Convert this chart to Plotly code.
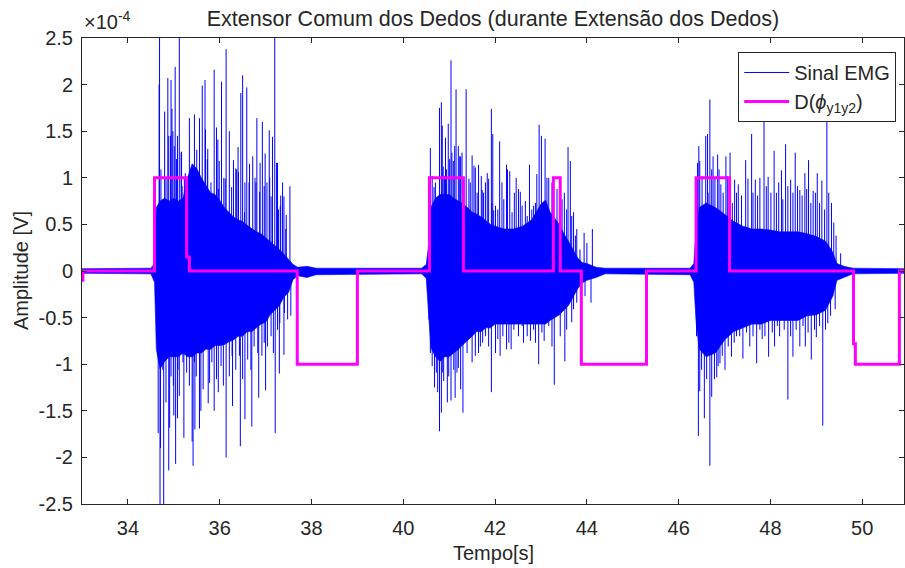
import plotly.graph_objects as go

# ---------------- data (amplitudes in units of 1e-4 V) ----------------
# Step signal D(phi_y1y2): breakpoints (value holds until next time)
d_time = [33.0, 33.02, 34.58, 35.28, 35.34, 37.69, 39.00, 40.57, 41.31, 43.27,
          43.42, 43.88, 45.30, 46.38, 47.11, 49.81, 49.85, 50.81, 50.91]
d_value = [-0.1, 0, 1, 0.15, 0, -1, 0, 1, 0, 1,
           0, -1, 0, 1, 0, -0.78, -1, 0, 0]

# EMG dense-core envelope
env_time = [33.0, 34.50, 34.58, 34.62, 34.70, 34.80, 34.90, 35.00, 35.10, 35.20,
            35.30, 35.40, 35.50, 35.60, 35.70, 35.80, 35.90, 36.00, 36.10, 36.20,
            36.30, 36.40, 36.50, 36.60, 36.70, 36.80, 36.90, 37.00, 37.10, 37.20,
            37.30, 37.40, 37.50, 37.60, 37.70, 37.90, 38.10, 40.40, 40.50, 40.55,
            40.60, 40.70, 40.80, 40.90, 41.00, 41.10, 41.20, 41.30, 41.40, 41.50,
            41.60, 41.70, 41.80, 41.90, 42.00, 42.20, 42.40, 42.60, 42.80, 43.00,
            43.10, 43.20, 43.40, 43.50, 43.60, 43.70, 43.80, 43.90, 44.00, 44.20,
            44.40, 46.25, 46.33, 46.38, 46.45, 46.60, 46.80, 47.00, 47.20, 47.40,
            47.60, 47.80, 48.00, 48.20, 48.40, 48.60, 48.80, 49.00, 49.20, 49.35,
            49.45, 49.60, 49.80, 50.91]
env_upper = [0.025, 0.03, 0.08, 0.68, 0.75, 0.78, 0.75, 0.78, 0.75, 0.78,
             1.00, 1.15, 1.10, 1.00, 0.92, 0.84, 0.82, 0.76, 0.68, 0.63,
             0.58, 0.55, 0.53, 0.49, 0.45, 0.42, 0.40, 0.36, 0.32, 0.27,
             0.23, 0.18, 0.13, 0.07, 0.04, 0.05, 0.03, 0.03, 0.07, 0.27,
             0.68, 0.78, 0.82, 0.82, 0.82, 0.78, 0.75, 0.72, 0.68, 0.63,
             0.61, 0.58, 0.54, 0.50, 0.48, 0.45, 0.45, 0.48, 0.55, 0.72,
             0.76, 0.63, 0.50, 0.40, 0.32, 0.23, 0.14, 0.09, 0.08, 0.04,
             0.03, 0.03, 0.08, 0.45, 0.68, 0.73, 0.68, 0.61, 0.53, 0.48,
             0.45, 0.45, 0.44, 0.42, 0.42, 0.42, 0.40, 0.37, 0.32, 0.21,
             0.08, 0.05, 0.03, 0.025]
env_lower = [-0.025, -0.03, -0.12, -0.84, -1.05, -0.97, -0.92, -0.92, -0.92, -0.88,
             -0.92, -0.92, -0.88, -0.88, -0.84, -0.84, -0.80, -0.80, -0.79, -0.76,
             -0.74, -0.70, -0.70, -0.65, -0.65, -0.61, -0.57, -0.55, -0.47, -0.42,
             -0.37, -0.28, -0.23, -0.09, -0.05, -0.07, -0.04, -0.03, -0.08, -0.45,
             -0.82, -0.92, -0.97, -0.92, -0.92, -0.88, -0.84, -0.79, -0.74, -0.70,
             -0.65, -0.65, -0.61, -0.61, -0.57, -0.57, -0.57, -0.57, -0.57, -0.57,
             -0.57, -0.53, -0.47, -0.42, -0.37, -0.28, -0.19, -0.13, -0.10, -0.07,
             -0.03, -0.04, -0.12, -0.55, -0.84, -0.92, -0.88, -0.74, -0.65, -0.61,
             -0.57, -0.57, -0.53, -0.53, -0.53, -0.53, -0.48, -0.47, -0.42, -0.28,
             -0.10, -0.07, -0.03, -0.025]

# EMG individual spikes above the core (positive)
spike_up_time = [
    34.68, 34.69, 34.72, 34.80, 34.83, 34.87, 34.89, 34.93, 34.94, 34.96,
    34.98, 35.01, 35.03, 35.06, 35.08, 35.12, 35.16, 35.17, 35.18, 35.23,
    35.25, 35.34, 35.45, 35.50, 35.56, 35.62, 35.68, 35.69, 35.73, 35.74,
    35.81, 35.88, 35.93, 35.96, 35.97, 35.99, 36.04, 36.09, 36.12, 36.14,
    36.21, 36.26, 36.30, 36.32, 36.35, 36.37, 36.40, 36.41, 36.46, 36.50,
    36.54, 36.55, 36.59, 36.64, 36.65, 36.72, 36.77, 36.79, 36.81, 36.87,
    36.88, 36.93, 36.97, 36.99, 37.03, 37.08, 37.09, 37.12, 37.15, 37.20,
    37.24, 37.26, 37.28, 37.32, 37.33, 37.37, 37.40, 37.44, 37.45, 37.53,
    40.59, 40.63, 40.67, 40.70, 40.74, 40.79, 40.83, 40.85, 40.87, 40.90,
    40.92, 40.94, 40.98, 41.01, 41.04, 41.06, 41.09, 41.12, 41.15, 41.20,
    41.23, 41.25, 41.28, 41.32, 41.37, 41.43, 41.46, 41.50, 41.54, 41.57,
    41.61, 41.64, 41.70, 41.72, 41.75, 41.79, 41.83, 41.86, 41.92, 41.93,
    41.95, 41.97, 42.01, 42.06, 42.10, 42.15, 42.19, 42.25, 42.27, 42.32,
    42.37, 42.42, 42.46, 42.51, 42.55, 42.59, 42.66, 42.70, 42.75, 42.80,
    42.84, 42.88, 42.91, 42.96, 43.01, 43.02, 43.09, 43.13, 43.17, 43.24,
    43.35, 43.46, 43.51, 43.56, 43.59, 43.64, 43.67, 43.71, 43.75, 43.78,
    43.85, 43.94, 44.00, 44.12,
    46.41, 46.44, 46.46, 46.51, 46.59, 46.63, 46.64, 46.68, 46.72, 46.75,
    46.79, 46.85, 46.88, 46.92, 46.97, 47.03, 47.06, 47.12, 47.17, 47.22,
    47.26, 47.30, 47.37, 47.46, 47.51, 47.59, 47.62, 47.67, 47.72, 47.77,
    47.86, 47.91, 47.95, 48.01, 48.08, 48.13, 48.18, 48.24, 48.27, 48.33,
    48.38, 48.44, 48.49, 48.54, 48.59, 48.64, 48.69, 48.75, 48.79, 48.83,
    48.88, 48.93, 48.98, 49.02, 49.07, 49.12, 49.18, 49.23, 49.27, 49.33,
    49.38, 49.43, 49.53]
spike_up_value = [
    2.00, 2.70, 1.09, 1.71, 0.99, 2.07, 1.45, 1.45, 2.05, 1.74,
    1.50, 1.34, 2.19, 1.20, 1.45, 2.70, 1.27, 1.28, 0.91, 0.99,
    1.05, 1.64, 1.68, 1.30, 1.64, 1.99, 2.05, 1.52, 1.20, 1.31,
    0.95, 2.16, 1.54, 1.41, 0.88, 1.18, 2.03, 1.00, 0.99, 2.38,
    1.50, 0.90, 1.19, 0.57, 1.10, 1.09, 1.33, 1.06, 1.91, 2.10,
    0.63, 0.95, 1.97, 0.95, 1.15, 1.23, 1.00, 0.95, 1.64, 0.85,
    1.16, 1.60, 0.91, 1.26, 0.95, 1.51, 1.00, 0.80, 1.44, 2.70,
    1.16, 1.16, 0.66, 0.70, 0.81, 0.95, 0.80, 0.45, 0.60, 0.91,
    1.32, 1.02, 0.90, 0.95, 0.77, 1.75, 1.81, 1.56, 1.12, 1.02,
    1.43, 1.09, 1.58, 1.20, 2.26, 1.27, 1.18, 1.34, 1.95, 1.34,
    1.23, 1.23, 1.27, 1.00, 1.95, 0.99, 0.95, 1.24, 1.13, 1.11,
    0.84, 1.14, 1.02, 0.87, 0.84, 0.95, 1.05, 0.99, 1.74, 0.73,
    1.47, 0.65, 0.70, 0.66, 1.39, 0.95, 0.77, 1.14, 1.09, 1.07,
    0.63, 0.84, 1.00, 0.88, 0.85, 0.70, 0.75, 0.59, 1.14, 0.66,
    0.70, 0.73, 1.04, 1.57, 1.45, 0.66, 1.42, 1.00, 1.00, 0.95,
    0.88, 0.77, 0.84, 0.66, 1.33, 1.18, 0.59, 0.63, 0.38, 0.45,
    0.23, 0.41, 0.30, 0.45,
    1.16, 1.34, 1.18, 1.02, 1.45, 1.47, 0.84, 1.84, 1.09, 1.23,
    0.99, 1.25, 1.09, 0.93, 0.84, 1.23, 1.02, 1.27, 0.73, 0.98,
    0.84, 0.93, 0.81, 1.19, 0.99, 1.47, 0.84, 0.98, 0.81, 1.00,
    1.66, 0.91, 1.01, 0.84, 1.29, 0.84, 0.95, 1.08, 0.77, 1.36,
    0.91, 0.98, 0.84, 1.27, 0.91, 0.87, 0.81, 1.05, 0.88, 1.19,
    0.73, 0.86, 0.84, 1.05, 0.73, 0.97, 0.66, 1.61, 0.84, 0.73,
    0.52, 0.38, 0.19]

# EMG individual spikes below the core (negative)
spike_down_time = [
    34.65, 34.66, 34.70, 34.71, 34.76, 34.78, 34.83, 34.89, 34.91, 34.94,
    34.99, 35.00, 35.04, 35.08, 35.09, 35.12, 35.20, 35.22, 35.28, 35.34,
    35.40, 35.42, 35.45, 35.46, 35.49, 35.56, 35.59, 35.64, 35.75, 35.78,
    35.83, 35.88, 35.93, 35.97, 36.03, 36.08, 36.14, 36.21, 36.27, 36.28,
    36.35, 36.43, 36.45, 36.50, 36.55, 36.61, 36.68, 36.70, 36.75, 36.83,
    36.85, 36.92, 36.97, 37.00, 37.04, 37.12, 37.17, 37.21, 37.26, 37.30,
    37.31, 37.40, 37.41, 37.48, 37.55,
    40.56, 40.59, 40.63, 40.68, 40.72, 40.75, 40.79, 40.83, 40.85, 40.88,
    40.96, 40.99, 41.04, 41.10, 41.13, 41.17, 41.20, 41.25, 41.30, 41.39,
    41.50, 41.57, 41.64, 41.68, 41.73, 41.79, 41.86, 41.92, 42.01, 42.06,
    42.11, 42.17, 42.25, 42.30, 42.35, 42.41, 42.51, 42.59, 42.62, 42.70,
    42.77, 42.84, 42.88, 42.95, 43.02, 43.07, 43.17, 43.24, 43.29, 43.42,
    43.52, 43.56, 43.67, 43.71, 43.78, 43.96, 44.09,
    46.39, 46.43, 46.46, 46.50, 46.56, 46.61, 46.68, 46.72, 46.78, 46.83,
    46.86, 46.90, 46.95, 47.01, 47.08, 47.15, 47.21, 47.26, 47.33, 47.40,
    47.48, 47.55, 47.62, 47.70, 47.77, 47.82, 47.88, 47.96, 48.04, 48.09,
    48.15, 48.20, 48.30, 48.38, 48.44, 48.49, 48.56, 48.64, 48.71, 48.76,
    48.82, 48.89, 48.96, 49.00, 49.07, 49.14, 49.20, 49.25, 49.31, 49.36,
    49.41]
spike_down_value = [
    -0.91, -1.74, -2.70, -1.90, -1.06, -2.70, -1.41, -2.14, -1.68, -1.13,
    -1.23, -1.55, -2.07, -1.58, -1.06, -1.34, -0.98, -1.79, -1.09, -1.23,
    -1.83, -2.09, -0.98, -1.70, -1.13, -1.69, -1.50, -1.27, -1.42, -1.20,
    -0.98, -1.50, -1.16, -1.30, -1.02, -1.23, -2.00, -1.13, -0.91, -1.45,
    -1.06, -0.91, -1.88, -1.16, -1.59, -0.95, -1.06, -1.67, -0.81, -0.88,
    -1.36, -0.91, -0.77, -1.28, -0.81, -0.70, -0.88, -1.74, -0.63, -1.10,
    -0.56, -0.90, -0.45, -0.52, -0.48,
    -0.52, -0.88, -1.02, -1.25, -1.09, -1.30, -1.72, -1.52, -1.09, -1.18,
    -1.41, -1.13, -1.39, -1.06, -1.36, -1.09, -1.04, -1.27, -1.52, -0.88,
    -0.98, -0.91, -0.88, -0.81, -0.77, -0.70, -0.81, -1.30, -0.88, -0.73,
    -0.91, -0.70, -0.84, -0.77, -0.84, -0.63, -0.70, -0.59, -0.77, -0.70,
    -0.75, -0.63, -0.77, -1.00, -0.66, -0.75, -0.59, -0.81, -1.22, -0.70,
    -0.97, -0.63, -0.55, -0.41, -0.34, -0.27, -0.34,
    -0.70, -1.77, -1.29, -1.06, -1.58, -1.16, -2.09, -1.35, -1.16, -1.14,
    -1.02, -0.99, -0.91, -1.06, -0.81, -0.92, -0.77, -0.70, -0.70, -0.94,
    -0.66, -0.81, -0.70, -0.99, -0.63, -0.73, -0.70, -0.92, -0.66, -0.81,
    -0.59, -0.70, -0.63, -1.38, -0.70, -0.92, -0.63, -0.81, -0.59, -0.81,
    -0.66, -0.95, -0.63, -0.71, -0.59, -1.66, -0.63, -0.56, -0.48, -0.27,
    -0.41]

x_ticks = [34, 36, 38, 40, 42, 44, 46, 48, 50]
y_ticks = [-2.5, -2, -1.5, -1, -0.5, 0, 0.5, 1, 1.5, 2, 2.5]
y_tick_labels = ["-2.5", "-2", "-1.5", "-1", "-0.5", "0", "0.5", "1", "1.5", "2", "2.5"]

title_text = "Extensor Comum dos Dedos (durante Extensão dos Dedos)"
x_label = "Tempo[s]"
y_label = "Amplitude [V]"
exp_label = "×10<sup>-4</sup>"
emg_name = "Sinal EMG"
d_name = "D(<i>ϕ</i><sub>y1y2</sub>)"

# ---------------- figure ----------------
BLUE = "#0000FF"
MAG = "#FF00FF"
AX = "#262626"
FONT = "Liberation Sans, Arial, sans-serif"

spike_x, spike_y = [], []
for t, v in list(zip(spike_up_time, spike_up_value)) + list(zip(spike_down_time, spike_down_value)):
    spike_x += [t, t, None]
    spike_y += [0, v, None]

fig = go.Figure()
fig.add_trace(go.Scatter(
    x=env_time + env_time[::-1], y=env_upper + env_lower[::-1],
    mode="lines", fill="toself", fillcolor=BLUE,
    line=dict(color=BLUE, width=0.6), showlegend=False, hoverinfo="skip"))
fig.add_trace(go.Scatter(
    x=spike_x, y=spike_y, mode="lines", name=emg_name,
    line=dict(color=BLUE, width=1)))
fig.add_trace(go.Scatter(
    x=d_time, y=d_value, mode="lines", name=d_name,
    line=dict(color=MAG, width=3, shape="hv")))

axis_common = dict(
    showgrid=False, zeroline=False, showline=True, linecolor=AX, linewidth=1,
    mirror="ticks", ticks="inside", ticklen=5, tickcolor=AX, tickwidth=1,
    automargin=False,
    tickfont=dict(family=FONT, size=20, color=AX))

fig.update_xaxes(range=[33.0, 50.91], tickvals=x_ticks,
                 ticktext=[str(v) for v in x_ticks], ticklabelstandoff=6, **axis_common)
fig.update_yaxes(range=[-2.5, 2.5], tickvals=y_ticks, ticktext=y_tick_labels,
                 ticklabelstandoff=4, **axis_common)

fig.update_layout(
    width=905, height=568,
    margin=dict(l=82, r=1, t=38, b=64, autoexpand=False),
    paper_bgcolor="white", plot_bgcolor="white",
    font=dict(family=FONT, color=AX),
    title=dict(text=title_text, x=0.5, xref="paper", y=1 - 18 / 568, yref="container",
               xanchor="center", yanchor="middle",
               font=dict(family=FONT, size=21.5, color=AX)),
    legend=dict(x=0.9905, y=0.97, xanchor="right", yanchor="top",
                bgcolor="white", bordercolor=AX, borderwidth=1,
                font=dict(family=FONT, size=20, color=AX),
                itemwidth=45, tracegroupgap=0),
    annotations=[
        dict(text=exp_label, xref="paper", yref="paper", x=0.0, y=1.0,
             xanchor="left", yanchor="bottom", yshift=3, showarrow=False,
             font=dict(family=FONT, size=20, color=AX)),
        dict(text=x_label, xref="paper", yref="paper", x=0.5, y=0,
             xanchor="center", yanchor="middle", yshift=-49, showarrow=False,
             font=dict(family=FONT, size=20, color=AX)),
        dict(text=y_label, xref="paper", yref="paper", x=0, y=0.5,
             xanchor="center", yanchor="middle", xshift=-61, textangle=-90,
             showarrow=False, font=dict(family=FONT, size=20, color=AX)),
    ],
)

fig.write_html("out.html", config={"displayModeBar": False},
               post_script="document.body.style.margin='0';document.body.style.padding='0';")
